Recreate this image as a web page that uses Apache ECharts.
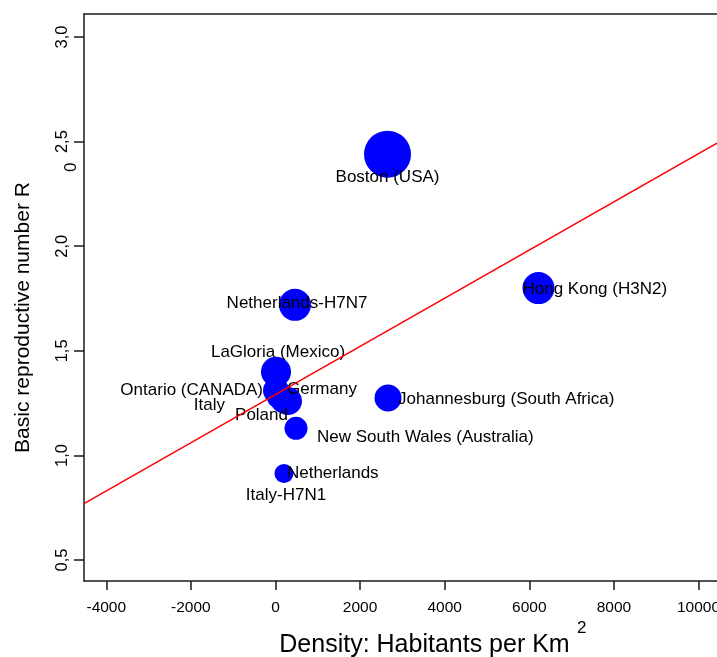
<!DOCTYPE html>
<html>
<head>
<meta charset="utf-8">
<script src="https://cdn.jsdelivr.net/npm/echarts@6/dist/echarts.min.js"></script>
<style>html,body{margin:0;padding:0;background:#fff}#c{width:717px;height:657px}</style>
</head>
<body>
<div id="c"></div>
<script>
// ---- data ----
var places = ['Boston (USA)', 'Hong Kong (H3N2)', 'Netherlands-H7N7', 'LaGloria (Mexico)', 'Ontario (CANADA)',
  'Germany', 'Poland', 'Italy', 'Johannesburg (South Africa)', 'New South Wales (Australia)', 'Netherlands', 'Italy-H7N1'];
var density = [2648, 6217, 461, 12, 12, 295, 177, 83, 2660, 485, 200, 200];
var r0 = [2.44, 1.80, 1.72, 1.40, 1.31, 1.26, 1.26, 1.28, 1.275, 1.13, 0.914, 0.91];
var fitX = [-4527, 10437];
var fitY = [0.77, 2.493];
var xTicks = [-4000, -2000, 0, 2000, 4000, 6000, 8000, 10000];
var yTicks = [0.5, 1.0, 1.5, 2.0, 2.5, 3.0];

// ---- style (not data) ----
var bubbleSize = {
  'Boston (USA)': 47, 'Hong Kong (H3N2)': 32, 'Netherlands-H7N7': 32, 'LaGloria (Mexico)': 30,
  'Ontario (CANADA)': 26, 'Germany': 28, 'Poland': 24, 'Italy': 24, 'Johannesburg (South Africa)': 27,
  'New South Wales (Australia)': 23, 'Netherlands': 19, 'Italy-H7N1': 16
};
var labelPlace = {
  'Boston (USA)': ['center', 0, 23],
  'Hong Kong (H3N2)': ['left', -16, 1],
  'Netherlands-H7N7': ['center', 2, -2],
  'LaGloria (Mexico)': ['center', 2, -19],
  'Ontario (CANADA)': ['right', -13, 0],
  'Germany': ['left', -1, -12],
  'Poland': ['right', 5, 14],
  'Italy': ['right', -54, 8],
  'Johannesburg (South Africa)': ['left', 10, 1],
  'New South Wales (Australia)': ['left', 21, 9],
  'Netherlands': ['left', 3, 0],
  'Italy-H7N1': ['center', 2, 21]
};

var FONT = 'Liberation Sans, Arial, Helvetica, sans-serif';
var xMin = -4527, xMax = 10437, yMin = 0.40, yMax = 3.11;

var points = places.map(function (p, i) {
  var lp = labelPlace[p];
  return {
    name: p,
    value: [density[i], r0[i]],
    symbolSize: bubbleSize[p],
    label: {
      show: true, formatter: p, position: 'inside', align: lp[0], verticalAlign: 'middle',
      offset: [lp[1], lp[2]], color: '#000', fontSize: 17, fontFamily: FONT
    }
  };
});

var chart = echarts.init(document.getElementById('c'), null, {renderer: 'canvas'});
var axisLine = {show: true, onZero: false, lineStyle: {color: '#1a1a1a', width: 1.5}};
chart.setOption({
  animation: false,
  backgroundColor: '#fff',
  grid: {left: 84, right: 0, top: 14, bottom: 76, containLabel: false, outerBoundsMode: 'none'},
  xAxis: [{
    type: 'value', min: xMin, max: xMax, position: 'bottom',
    axisLine: axisLine, splitLine: {show: false},
    axisTick: {show: true, inside: false, length: 9, customValues: xTicks, lineStyle: {color: '#1a1a1a', width: 1.5}},
    axisLabel: {show: true, customValues: xTicks, margin: 19, color: '#000', fontSize: 15.5, fontFamily: FONT,
      showMinLabel: true, showMaxLabel: true, hideOverlap: false,
      formatter: function (v) { return String(v); }},
    name: 'Density: Habitants per Km', nameLocation: 'middle', nameGap: 52,
    nameTextStyle: {color: '#000', fontSize: 25, fontFamily: FONT, padding: [0, 0, 0, 48]}
  }, {
    type: 'value', min: xMin, max: xMax, position: 'top',
    axisLine: axisLine, axisTick: {show: false}, axisLabel: {show: false}, splitLine: {show: false}
  }],
  yAxis: [{
    type: 'value', min: yMin, max: yMax,
    axisLine: axisLine, splitLine: {show: false},
    axisTick: {show: true, length: 10, customValues: yTicks, lineStyle: {color: '#1a1a1a', width: 1.5}},
    axisLabel: {show: true, customValues: yTicks, rotate: 90, margin: 13, color: '#000', fontSize: 16.5, fontFamily: FONT,
      formatter: function (v) { return v.toFixed(1).replace('.', ','); }},
    name: 'Basic reproductive number R', nameLocation: 'middle', nameRotate: 90, nameGap: 50,
    nameTextStyle: {color: '#000', fontSize: 21, fontFamily: FONT, padding: [0, 40, 0, 0]}
  }],
  graphic: [
    {type: 'text', left: 577, top: 620, style: {text: '2', fontSize: 17, fontFamily: FONT, fill: '#000'}},
    {type: 'text', x: 63, y: 172, rotation: Math.PI / 2, style: {text: '0', fontSize: 17, fontFamily: FONT, fill: '#000'}}
  ],
  series: [{
    type: 'line', data: fitX.map(function (x, i) { return [x, fitY[i]]; }),
    showSymbol: false, symbol: 'none', clip: true, z: 3,
    lineStyle: {color: '#ff0000', width: 1.5}
  }, {
    type: 'scatter', data: points, symbol: 'circle', z: 2, clip: true,
    itemStyle: {color: '#0000ff', opacity: 1}
  }]
});
</script>
</body>
</html>
